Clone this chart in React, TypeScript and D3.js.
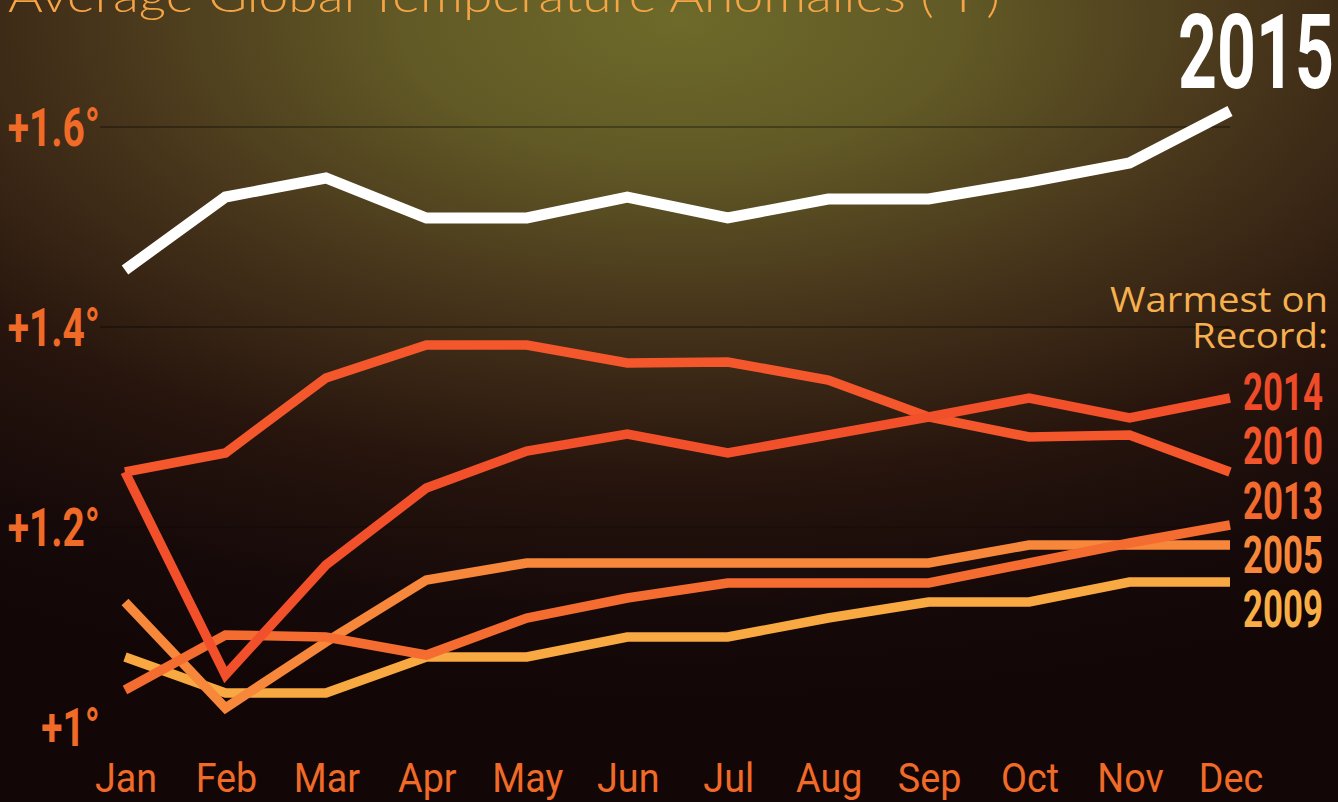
import * as d3 from "d3";

const months = ["Jan", "Feb", "Mar", "Apr", "May", "Jun", "Jul", "Aug", "Sep", "Oct", "Nov", "Dec"];

const y2015 = [1.457, 1.53, 1.549, 1.509, 1.509, 1.53, 1.509, 1.528, 1.528, 1.545, 1.564, 1.616];
const y2014 = [1.255, 1.052, 1.162, 1.239, 1.276, 1.293, 1.274, 1.292, 1.31, 1.329, 1.309, 1.329];
const y2010 = [1.255, 1.274, 1.349, 1.382, 1.382, 1.364, 1.365, 1.347, 1.31, 1.29, 1.292, 1.255];
const y2013 = [1.037, 1.092, 1.09, 1.072, 1.109, 1.129, 1.144, 1.144, 1.144, 1.164, 1.184, 1.202];
const y2005 = [1.125, 1.019, 1.085, 1.147, 1.164, 1.164, 1.164, 1.164, 1.164, 1.182, 1.182, 1.182];
const y2009 = [1.07, 1.034, 1.034, 1.07, 1.07, 1.09, 1.09, 1.109, 1.125, 1.125, 1.145, 1.145];

const yTicks = [1.0, 1.2, 1.4, 1.6];
const yTickLabels = ["+1°", "+1.2°", "+1.4°", "+1.6°"];

const legendYears = ["2014", "2010", "2013", "2005", "2009"];

// drawing order: bottom first
const lines = [
  { year: "2009", values: y2009, color: "#f9a941" },
  { year: "2005", values: y2005, color: "#f7873a" },
  { year: "2013", values: y2013, color: "#f46c30" },
  { year: "2010", values: y2010, color: "#f5572c" },
  { year: "2014", values: y2014, color: "#f2502a" },
  { year: "2015", values: y2015, color: "#ffffff" },
];

const legendColors: Record<string, string> = {
  "2014": "#ef4b29",
  "2010": "#f2552b",
  "2013": "#f36a2f",
  "2005": "#f7883a",
  "2009": "#f9ae46",
};

const W = 1338;
const H = 802;
const cond = "Roboto, 'Liberation Sans', sans-serif";
const geo = "'Open Sans', Lato, sans-serif";

export default function App() {
  const x = d3.scaleLinear().domain([0, 11]).range([125, 1230]);
  const y = d3.scaleLinear().domain([1.0, 1.6]).range([727, 127]);
  const line = d3
    .line<number>()
    .x((d, i) => x(i))
    .y((d) => y(d));
  const legendY = d3.scaleLinear().domain([0, legendYears.length - 1]).range([410, 627]);

  return (
    <svg width={W} height={H} style={{ position: "absolute", left: 0, top: 0 }}>
      <defs>
        <radialGradient
          id="bg"
          gradientUnits="userSpaceOnUse"
          cx={0}
          cy={0}
          r={1}
          gradientTransform="translate(680,20) scale(1350,680)"
        >
          <stop offset="0" stopColor="#6d6a2a" />
          <stop offset="0.2" stopColor="#625a26" />
          <stop offset="0.45" stopColor="#45321a" />
          <stop offset="0.68" stopColor="#26140d" />
          <stop offset="0.88" stopColor="#150909" />
          <stop offset="1" stopColor="#120606" />
        </radialGradient>
      </defs>
      <rect width={W} height={H} fill="url(#bg)" />

      {/* gridlines */}
      {yTicks.slice(1).map((t) => (
        <line
          key={t}
          x1={100}
          x2={1230}
          y1={y(t)}
          y2={y(t)}
          stroke="#000"
          strokeOpacity={t === 1.2 ? 0.15 : 0.3}
          strokeWidth={2}
        />
      ))}

      {/* y labels */}
      {yTicks.map((t, i) => (
        <text
          key={t}
          transform={`translate(100,${y(t) + 19}) scale(0.72,1)`}
          textAnchor="end"
          fill="#f06a28"
          fontFamily={cond}
          fontWeight="bold"
          fontSize={54}
        >
          {yTickLabels[i]}
        </text>
      ))}

      {/* series */}
      {lines.map((s) => (
        <path
          key={s.year}
          d={line(s.values) || ""}
          fill="none"
          stroke={s.color}
          strokeWidth={s.year === "2015" ? 11 : 9.5}
          strokeLinejoin="miter"
        />
      ))}

      {/* month labels */}
      {months.map((m, i) => (
        <text
          key={m}
          transform={`translate(${x(i) + 1},792) scale(0.92,1)`}
          textAnchor="middle"
          fill="#f06a28"
          fontFamily={cond}
          fontSize={41}
        >
          {m}
        </text>
      ))}

      {/* title */}
      <text
        x={8}
        y={12}
        fill="#f5a545"
        fontFamily="Lato, 'Open Sans', sans-serif"
        fontWeight={300}
        fontSize={46}
        textLength={992}
        lengthAdjust="spacingAndGlyphs"
      >
        Average Global Temperature Anomalies (°F)
      </text>

      <text
        x={1334}
        y={88}
        textAnchor="end"
        fill="#ffffff"
        fontFamily={cond}
        fontWeight="bold"
        fontSize={104}
        textLength={156}
        lengthAdjust="spacingAndGlyphs"
      >
        2015
      </text>

      <text
        x={1328}
        y={312}
        textAnchor="end"
        fill="#f7b04e"
        fontFamily={geo}
        fontSize={34}
        textLength={218}
        lengthAdjust="spacingAndGlyphs"
      >
        Warmest on
      </text>
      <text
        x={1328}
        y={348}
        textAnchor="end"
        fill="#f7b04e"
        fontFamily={geo}
        fontSize={34}
        textLength={136}
        lengthAdjust="spacingAndGlyphs"
      >
        Record:
      </text>

      {legendYears.map((yr, i) => (
        <text
          key={yr}
          x={1323}
          y={legendY(i)}
          textAnchor="end"
          fill={legendColors[yr]}
          fontFamily={cond}
          fontWeight="bold"
          fontSize={51}
          textLength={80}
          lengthAdjust="spacingAndGlyphs"
        >
          {yr}
        </text>
      ))}
    </svg>
  );
}
